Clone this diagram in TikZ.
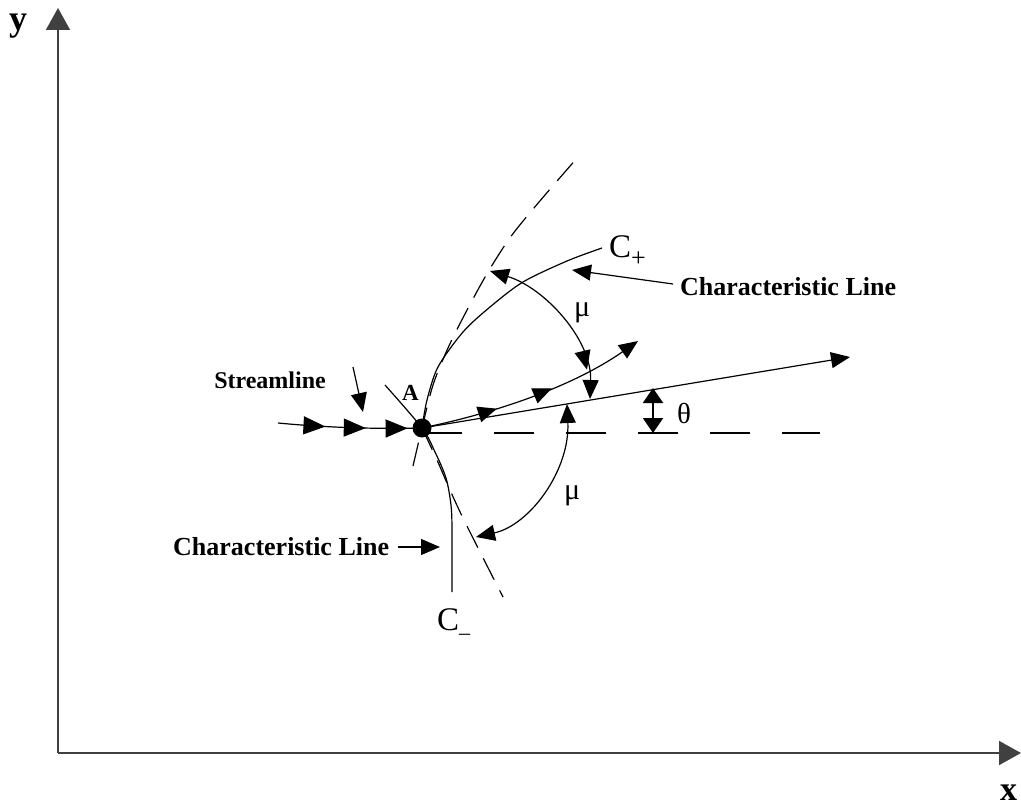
\documentclass[tikz,border=0pt]{standalone}
\usepackage{fontspec}
\setmainfont{Liberation Serif}
\usetikzlibrary{arrows.meta,decorations.markings}
\tikzset{
  ln/.style={line width=1.2pt},
  axis/.style={line width=1.8pt,draw=black!75,-{Triangle[length=22pt,width=24pt]}},
  tri/.style={-{Triangle[length=19pt,width=16pt]}},
  tritri/.style={{Triangle[length=19pt,width=16pt]}-{Triangle[length=19pt,width=16pt]}},
  dsh/.style={line width=1.2pt,dash pattern=on 24pt off 12pt},
  hdsh/.style={line width=1.2pt,dash pattern=on 40pt off 32pt},
  blab/.style={font=\bfseries\fontsize{26}{26}\selectfont,inner sep=0pt},
  clab/.style={font=\fontsize{33}{33}\selectfont,inner sep=0pt},
  glab/.style={font=\fontsize{30}{30}\selectfont,inner sep=0pt},
  marks/.style={postaction={decorate},decoration={markings,#1}},
}
\begin{document}
\begin{tikzpicture}[x=1pt,y=-1pt]
\useasboundingbox (0,0) rectangle (1021,808);
% axes
\coordinate (O) at (58,753);
\coordinate (Ytip) at (58,8);
\coordinate (Xtip) at (1021,753);
\draw[axis] (O) -- (Ytip);
\draw[axis] (O) -- (Xtip);
\node[font=\bfseries\fontsize{36}{36}\selectfont,inner sep=0pt,anchor=base west] (ylab) at (9,31) {y};
\node[font=\bfseries\fontsize{34}{34}\selectfont,inner sep=0pt,anchor=base west] (xlab) at (1000,800) {x};
% point A
\coordinate (A) at (422,428);
% horizontal dashed reference
\coordinate (H) at (820,433);
\draw[hdsh] (422,433) -- (H);
% characteristic C+ (solid)
\draw[ln] plot[smooth] coordinates {(422,428) (427,400) (438,367) (463,332) (490,307) (523,282) (567,261) (602,248)};
% characteristic C- (solid)
\draw[ln] plot[smooth] coordinates {(385,385) (422,428) (435,452) (446,478) (451,505) (452,530) (452,592)};
% Mach lines (dashed)
\draw[dsh] plot[smooth] coordinates {(413,466) (422,428) (433,385) (448,348) (466,312) (488,272) (512,235) (545,195) (578,157)};
\draw[dsh] plot[smooth] coordinates {(422,428) (437,460) (450,490) (462,516) (478,548) (503,597)};
% flow direction line
\coordinate (T) at (850,357);
\draw[ln,tri] (A) -- (T);
% incoming streamline
\coordinate (S0) at (278,423);
\draw[ln,marks={mark=at position 0.33 with {\arrow{Triangle[length=22pt,width=18pt]}},
  mark=at position 0.61 with {\arrow{Triangle[length=22pt,width=18pt]}},
  mark=at position 0.90 with {\arrow{Triangle[length=22pt,width=18pt]}}}]
  (S0) .. controls (330,428) and (380,429) .. (A);
% outgoing streamline
\coordinate (S1) at (638,341);
\draw[ln,tri,marks={mark=at position 0.33 with {\arrow{Triangle[length=19pt,width=16pt]}},
  mark=at position 0.58 with {\arrow{Triangle[length=19pt,width=16pt]}}}]
  (A) .. controls (500,412) and (575,385) .. (S1);
% dot at A
\node[circle,fill=black,minimum size=19pt,inner sep=0pt] (Adot) at (A) {};
\node[font=\bfseries\fontsize{23}{23}\selectfont,inner sep=0pt,anchor=base west] (Alab) at (402,400) {A};
% upper mu arc
\coordinate (M1a) at (490,271);
\coordinate (M1b) at (590,399);
\draw[ln,tritri,marks={mark=at position 0.83 with {\arrow{Triangle[length=19pt,width=16pt]}}}]
  (M1a) .. controls (545,288) and (592,340) .. (M1b);
\node[glab,anchor=base west] (mu1) at (574,316) {μ};
% lower mu arc
\coordinate (M2a) at (567,404);
\coordinate (M2b) at (476,537);
\draw[ln,tritri] (M2a) .. controls (570,470) and (530,525) .. (M2b);
\node[glab,anchor=base west] (mu2) at (564,499) {μ};
% theta
\coordinate (Th1) at (653,388);
\coordinate (Th2) at (653,433);
\draw[line width=2pt,{Triangle[length=15pt,width=20pt]}-{Triangle[length=15pt,width=20pt]}] (Th2) -- (Th1);
\node[font=\fontsize{29}{29}\selectfont,inner sep=0pt,anchor=base west] (thlab) at (677,423) {θ};
% C labels
\node[clab,anchor=base west] (Cp) at (609,257) {C\raisebox{-9pt}{\fontsize{26}{26}\selectfont +}};
\node[clab,anchor=base west] (Cm) at (437,630) {C\raisebox{-2pt}{\fontsize{22}{22}\selectfont \_}};
% characteristic line labels
\node[blab,anchor=base west] (CL1) at (680,295) {Characteristic Line};
\coordinate (CL1s) at (673,284);
\coordinate (CL1e) at (572,270);
\draw[ln,tri] (CL1s) -- (CL1e);
\node[blab,anchor=base west] (CL2) at (173,555) {Characteristic Line};
\coordinate (CL2s) at (398,547);
\coordinate (CL2e) at (440,547);
\draw[ln,tri] (CL2s) -- (CL2e);
% streamline label
\node[font=\bfseries\fontsize{24}{24}\selectfont,inner sep=0pt,anchor=base east] (SL) at (326,388) {Streamline};
\coordinate (SLs) at (353,367);
\coordinate (SLe) at (363,412);
\draw[ln,tri] (SLs) -- (SLe);
\end{tikzpicture}
\end{document}
